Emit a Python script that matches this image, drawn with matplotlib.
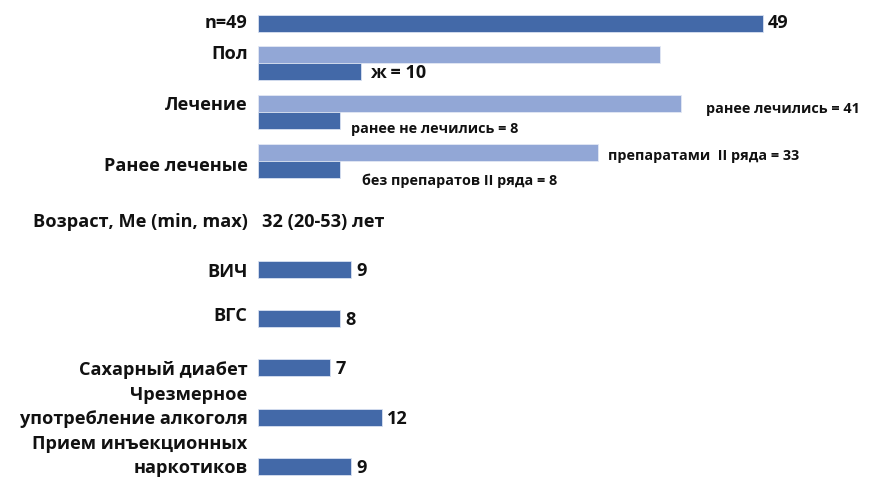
import matplotlib
matplotlib.use("Agg")
import matplotlib.pyplot as plt

plt.rcParams["font.family"] = ["Open Sans", "DejaVu Sans"]
plt.rcParams["font.weight"] = "bold"

# --- data -------------------------------------------------------------
total_label = "n=49"
total_value = 49

pair_labels = ["Пол", "Лечение", "Ранее леченые"]
pair_major = [39, 41, 33]          # светлые полосы
pair_minor = [10, 8, 8]            # тёмные полосы
pair_major_text = ["", "ранее лечились = {}", "препаратами  II ряда = {}"]
pair_minor_text = ["ж = {}", "ранее не лечились = {}", "без препаратов II ряда = {}"]

age_label = "Возраст, Me (min, max)"
age_text = "32 (20-53) лет"

comorb_labels = ["ВИЧ", "ВГС", "Сахарный диабет",
                 "Чрезмерное\nупотребление алкоголя",
                 "Прием инъекционных\nнаркотиков"]
comorb_values = [9, 8, 7, 12, 9]

# --- layout (vertical positions in figure pixels from top) -------------
W, H = 869, 483
x0_px = 258                # start of bars
px_per_unit = 505 / 49
bar_h = 17

total_y = 23
pair_y = [63, 112, 161]    # boundary between light and dark bar
age_y = 222
comorb_y = [269, 318, 367, 417, 466]

dark = "#4369a8"
light = "#92a7d6"
txt = "#111111"
big = 13.1
small = 10.4

fig = plt.figure(figsize=(W / 100, H / 100), dpi=100)
ax = fig.add_axes([x0_px / W, 0, 1 - x0_px / W, 1])
ax.set_xlim(0, (W - x0_px) / px_per_unit)
ax.set_ylim(H, 0)
ax.axis("off")

lx = -1.0   # right edge of category labels (data units)

# total
ax.barh(total_y, total_value, height=bar_h, color=dark, edgecolor="#d9e1f1", linewidth=0.6)
ax.text(lx, total_y, total_label, ha="right", va="center", fontsize=big, color=txt)
ax.text(total_value + 0.5, total_y, str(total_value), ha="left", va="center",
        fontsize=big, color=txt)

# paired bars
label_dy = [-9, -7, 5]
for lab, ymid, vmaj, vmin, ldy in zip(pair_labels, pair_y, pair_major, pair_minor, label_dy):
    ym, yn = ymid - bar_h / 2, ymid + bar_h / 2
    ax.barh(ym, vmaj, height=bar_h, color=light, edgecolor="#e3e8f4", linewidth=0.6)
    ax.barh(yn, vmin, height=bar_h, color=dark, edgecolor="#d9e1f1", linewidth=0.6)
    ax.text(lx, ymid + ldy, lab, ha="right", va="center", fontsize=big, color=txt)

# value texts for the paired bars
# Пол
ax.text(pair_minor[0] + 0.9, pair_y[0] + bar_h / 2 + 1, pair_minor_text[0].format(pair_minor[0]),
        ha="left", va="center", fontsize=big, color=txt)
# Лечение
ax.text(pair_major[1] + 2.5, pair_y[1] - 3, pair_major_text[1].format(pair_major[1]),
        ha="left", va="center", fontsize=small, color=txt)
ax.text(pair_minor[1] + 1.0, pair_y[1] + 17, pair_minor_text[1].format(pair_minor[1]),
        ha="left", va="center", fontsize=small, color=txt)
# Ранее леченые
ax.text(pair_major[2] + 1.0, pair_y[2] - 5, pair_major_text[2].format(pair_major[2]),
        ha="left", va="center", fontsize=small, color=txt)
ax.text(pair_minor[2] + 2.1, pair_y[2] + 20, pair_minor_text[2].format(pair_minor[2]),
        ha="left", va="center", fontsize=small, color=txt)

# age row
ax.text(lx, age_y, age_label, ha="right", va="center", fontsize=big, color=txt)
ax.text(0.4, age_y, age_text, ha="left", va="center", fontsize=big, color=txt)

# comorbidities
ax.barh(comorb_y, comorb_values, height=bar_h, color=dark, edgecolor="#d9e1f1", linewidth=0.6)
label_off = [3, -2, 3, 0, 0]
for lab, y, v, off in zip(comorb_labels, comorb_y, comorb_values, label_off):
    ax.text(v + 0.5, y + 2, str(v), ha="left", va="center", fontsize=big, color=txt)
    if "\n" in lab:
        top, bottom = lab.split("\n")
        ax.text(lx, y - 22, top, ha="right", va="center", fontsize=big, color=txt)
        ax.text(lx, y + 2, bottom, ha="right", va="center", fontsize=big, color=txt)
    else:
        ax.text(lx, y + off, lab, ha="right", va="center", fontsize=big, color=txt)

fig.savefig("out.png", dpi=100, facecolor="white")
